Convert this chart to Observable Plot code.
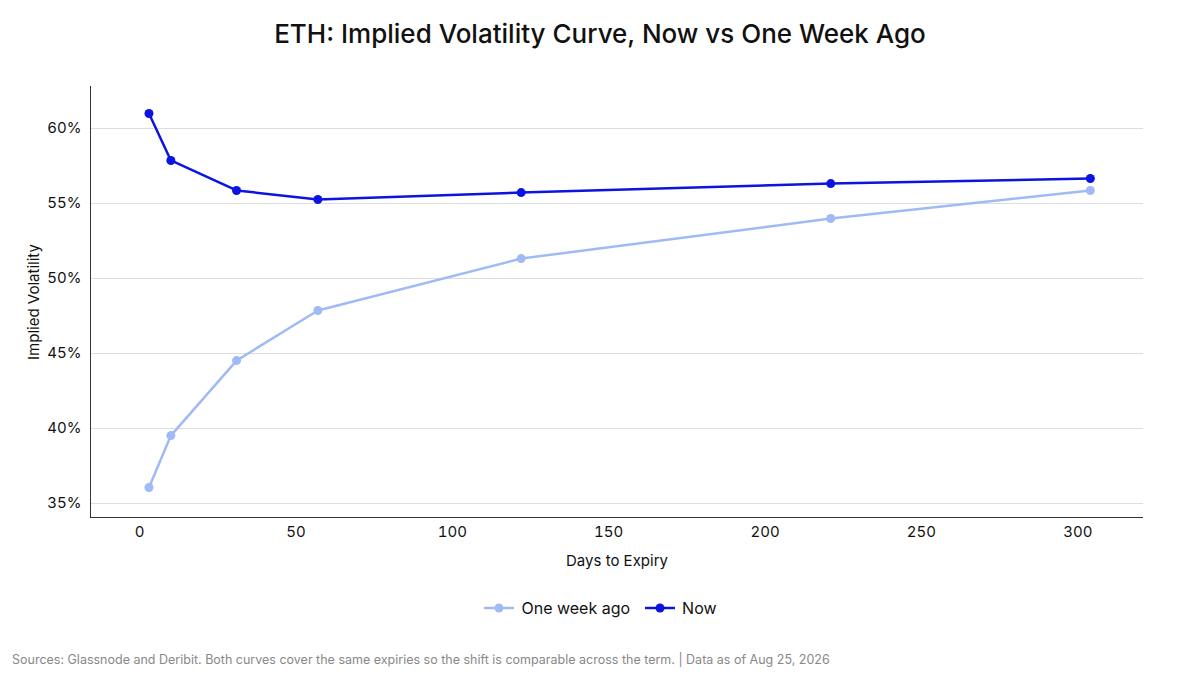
<!DOCTYPE html>
<html><head><meta charset="utf-8">
<script src="https://cdn.jsdelivr.net/npm/d3@7"></script>
<script src="https://cdn.jsdelivr.net/npm/@observablehq/plot@0.6"></script>
<style>
body{margin:0;background:#fff;font-family:Inter,sans-serif;width:1200px;height:675px;overflow:hidden}
h1{margin:0;padding-top:18px;height:52px;text-align:center;font-size:26px;font-weight:500;color:#111}
#legend{display:flex;justify-content:center;gap:14px;font-size:16px;margin-top:28px;color:#111}
.li{display:flex;align-items:center;gap:6px}
#cap{position:absolute;left:12px;top:652px;font-size:12.5px;color:#888}
</style></head><body>
<h1>ETH: Implied Volatility Curve, Now vs One Week Ago</h1>
<div id="chart"></div>
<div id="legend"></div>
<div id="cap">Sources: Glassnode and Deribit. Both curves cover the same expiries so the shift is comparable across the term. | Data as of Aug 25, 2026</div>
<script>
const days=[3,10,31,57,122,221,304];
const nowVals=[61.0,57.87,55.87,55.27,55.73,56.33,56.67];
const weekVals=[36.07,39.53,44.53,47.87,51.33,54.0,55.87];
const series=["One week ago","Now"];
const colors=["#9fbaf5","#0b14e0"];
const data=[...days.map((d,i)=>({d,v:weekVals[i],s:series[0]})),...days.map((d,i)=>({d,v:nowVals[i],s:series[1]}))];
const yTicks=[35,40,45,50,55,60];
const plot=Plot.plot({
 width:1200,height:500,marginLeft:90,marginRight:57,marginTop:16,marginBottom:53,
 style:{fontFamily:"Inter,sans-serif",fontSize:"15px",color:"#111"},
 x:{domain:[-15.7,321],ticks:[0,50,100,150,200,250,300],label:"Days to Expiry",labelArrow:"none",labelAnchor:"center",labelOffset:48,tickSize:0},
 y:{domain:[34.07,62.8],ticks:yTicks,tickFormat:d=>d+"%",label:"Implied Volatility",labelArrow:"none",labelAnchor:"center",labelOffset:62,tickSize:0},
 color:{domain:series,range:colors},
 marks:[
  Plot.gridY(yTicks,{stroke:"#ddd",strokeOpacity:1}),
  Plot.ruleX([-15.7],{stroke:"#333"}),
  Plot.ruleY([34.07],{stroke:"#333"}),
  Plot.line(data,{x:"d",y:"v",stroke:"s",strokeWidth:2.5}),
  Plot.dot(data,{x:"d",y:"v",fill:"s",r:4.5})
 ]});
document.getElementById("chart").append(plot);
document.getElementById("legend").innerHTML=series.map((s,i)=>`<span class="li"><svg width="32" height="12"><line x1="1" y1="6" x2="31" y2="6" stroke="${colors[i]}" stroke-width="2.5"/><circle cx="16" cy="6" r="4.5" fill="${colors[i]}"/></svg>${s}</span>`).join("");
</script></body></html>
